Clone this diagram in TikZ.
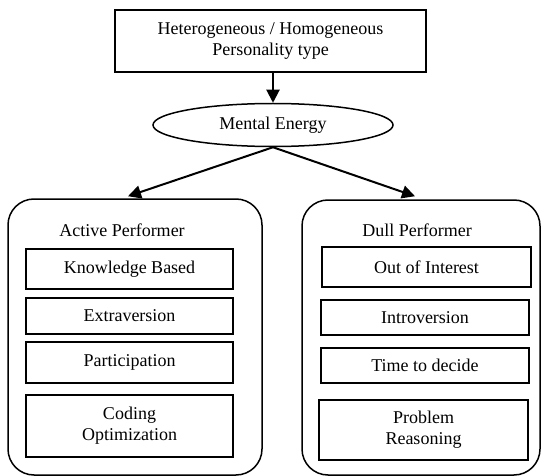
\documentclass[tikz,border=0pt]{standalone}
\usepackage{fontspec}
\setmainfont{Liberation Serif}
\usetikzlibrary{shapes.geometric,arrows.meta}

\begin{document}
\begin{tikzpicture}[x=1pt,y=-1pt,
  font=\fontsize{18}{21}\selectfont,
  box/.style={draw,line width=1.5pt,inner sep=0pt,align=center},
  group/.style={draw,line width=1.5pt,rounded corners=26pt,inner sep=0pt},
  link/.style={line width=2pt,-{Triangle[length=13pt,width=13pt]}}]
  \useasboundingbox (0,0) rectangle (541,476);

  \node[box,minimum width=311pt,minimum height=62pt] (type) at (270.5,41)
    {Heterogeneous / Homogeneous\\Personality type};

  \node[box,ellipse,minimum width=240pt,minimum height=43pt] (energy) at (273,125) {Mental Energy};

  \node[group,minimum width=254pt,minimum height=276pt] (active) at (135,337) {};
  \node[group,minimum width=238pt,minimum height=275pt] (dull) at (421,337.5) {};

  \node (activetitle) at (122,230) {Active Performer};
  \node (dulltitle) at (417,230) {Dull Performer};

  \node[box,minimum width=207pt,minimum height=40pt] (knowledge) at (129.5,269) {Knowledge Based};
  \node[box,minimum width=207pt,minimum height=36pt] (extra) at (129.5,316) {Extraversion};
  \node[box,minimum width=207pt,minimum height=41pt] (particip) at (129.5,362.5) {Participation};
  \node[box,minimum width=207pt,minimum height=62pt] (coding) at (129.5,426) {Coding\\Optimization};

  \node[box,minimum width=209pt,minimum height=40pt] (interest) at (426.5,267) {Out of Interest};
  \node[box,minimum width=208pt,minimum height=35pt] (intro) at (425,317.5) {Introversion};
  \node[box,minimum width=208pt,minimum height=35pt] (decide) at (425,365.5) {Time to decide};
  \node[box,minimum width=209pt,minimum height=60pt] (problem) at (423.5,430) {Problem\\Reasoning};

  \draw[link] (type.south -| energy.north) -- (energy.north);
  \draw[link] (energy.south) -- ([xshift=-7pt,yshift=2pt]active.north);
  \draw[link] (energy.south) -- ([xshift=-6pt,yshift=3pt]dull.north);
\end{tikzpicture}
\end{document}
